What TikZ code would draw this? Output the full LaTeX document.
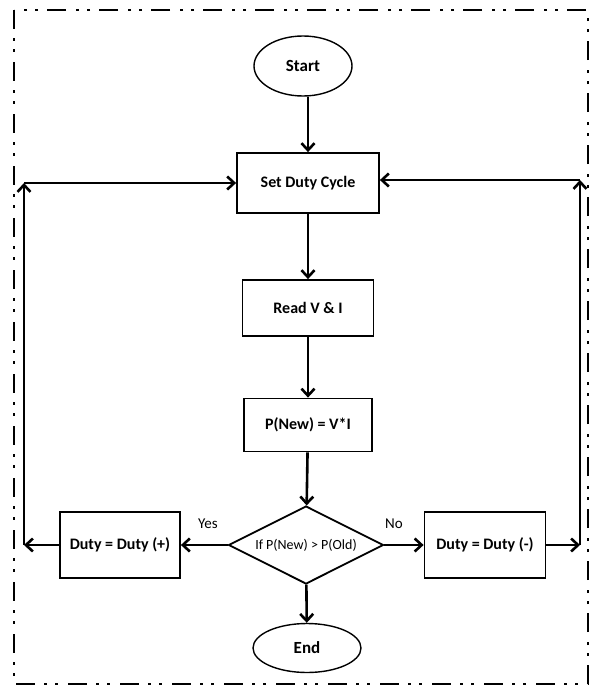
\documentclass[tikz,border=0pt]{standalone}
\usepackage{fontspec}
\setmainfont{Carlito}
\usetikzlibrary{shapes.geometric,arrows.meta}
\begin{document}
\begin{tikzpicture}[x=1pt,y=-1pt,
  boxnode/.style={draw,line width=1.8pt,minimum width=#1,font=\fontsize{16}{18}\selectfont\bfseries,inner sep=0pt},
  termnode/.style={draw,ellipse,line width=1.4pt,font=\fontsize{17}{19}\selectfont\bfseries,inner sep=0pt},
  flowarrow/.style={line width=2.6pt,-{Straight Barb[length=7pt,width=13pt,line width=2.6pt]}},
  framestyle/.style={line width=2.8pt,dash pattern=on 19pt off 9pt on 3pt off 8pt on 3pt off 10pt}]
\useasboundingbox (0,0) rectangle (591,688);
\draw[framestyle] (14,10) rectangle (588,684);
\node[termnode,minimum width=98pt,minimum height=60pt] (start) at (303,66) {Start};
\node[boxnode=142pt,minimum height=60pt] (set) at (308,183) {Set Duty Cycle};
\node[boxnode=131pt,minimum height=56pt] (read) at (308,308) {Read V \& I};
\node[boxnode=128pt,minimum height=53pt] (pnew) at (308,425) {P(New) = V*I};
\node[draw,diamond,aspect=2,line width=1.8pt,minimum width=155pt,minimum height=78pt,inner sep=0pt,font=\fontsize{14}{16}\selectfont] (dec) at (306,545) {If P(New) > P(Old)};
\node[boxnode=120pt,minimum height=66pt] (plus) at (120,545) {Duty = Duty (+)};
\node[boxnode=121pt,minimum height=66pt] (minus) at (485,545) {Duty = Duty (-)};
\node[termnode,minimum width=108pt,minimum height=49pt] (end) at (307,648) {End};
\coordinate (lb) at (24,545);
\coordinate (lt) at (24,183);
\coordinate (rb) at (580,545);
\coordinate (rt) at (580,180);
\draw[flowarrow] (start.south -| set.north) -- (set.north);
\draw[flowarrow] (set) -- (read);
\draw[flowarrow] (read) -- (pnew);
\draw[flowarrow] (pnew) -- (dec);
\draw[flowarrow] (dec) -- (end);
\draw[flowarrow] (dec.west) -- (plus.east);
\draw[flowarrow] (dec.east) -- (minus.west);
\draw[flowarrow] (plus.west) -- (lb);
\draw[flowarrow] (lb) -- (lt);
\draw[flowarrow] (lt) -- (set.west);
\draw[flowarrow] (minus.east) -- (rb);
\draw[flowarrow] (rb) -- (rt);
\draw[flowarrow] (rt) -- (rt -| set.east);
\node[font=\fontsize{15}{17}\selectfont] (yes) at (208,524) {Yes};
\node[font=\fontsize{15}{17}\selectfont] (no) at (394,524) {No};
\end{tikzpicture}
\end{document}
